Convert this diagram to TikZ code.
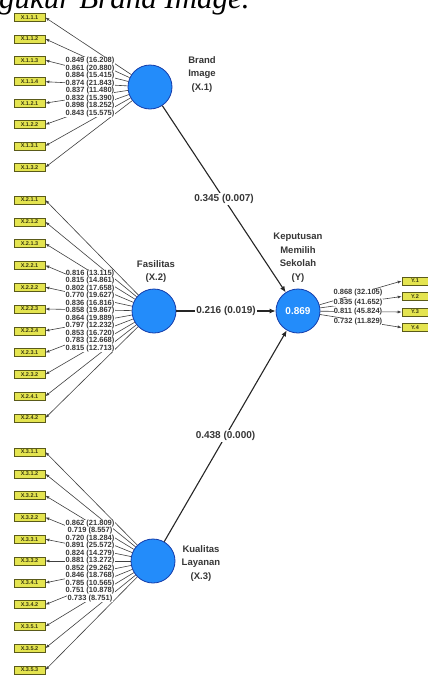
\documentclass[tikz,border=0pt]{standalone}
\usepackage{fontspec}
\setmainfont{Liberation Serif}
\newfontfamily\lsans{Liberation Sans}
\usetikzlibrary{arrows.meta}
\definecolor{cfill}{RGB}{35,140,250}
\definecolor{cdraw}{RGB}{20,60,170}
\definecolor{ifill}{RGB}{228,228,80}
\definecolor{idraw}{RGB}{90,90,25}
\definecolor{tgray}{RGB}{55,55,55}
\def\grpa{X.1.1.1/{0.849 (16.208)},X.1.1.2/{0.861 (20.880)},X.1.1.3/{0.884 (15.415)},X.1.1.4/{0.874 (21.843)},X.1.2.1/{0.837 (11.480)},X.1.2.2/{0.832 (15.390)},X.1.3.1/{0.898 (18.252)},X.1.3.2/{0.843 (15.575)}}
\def\grpb{X.2.1.1/{0.816 (13.115)},X.2.1.2/{0.815 (14.861)},X.2.1.3/{0.802 (17.658)},X.2.2.1/{0.770 (19.627)},X.2.2.2/{0.836 (16.816)},X.2.2.3/{0.858 (19.867)},X.2.2.4/{0.864 (19.889)},X.2.3.1/{0.797 (12.232)},X.2.3.2/{0.853 (16.720)},X.2.4.1/{0.783 (12.668)},X.2.4.2/{0.815 (12.713)}}
\def\grpc{X.3.1.1/{0.862 (21.809)},X.3.1.2/{0.719 (8.557)},X.3.2.1/{0.720 (18.284)},X.3.2.2/{0.891 (25.572)},X.3.3.1/{0.824 (14.279)},X.3.3.2/{0.881 (13.272)},X.3.4.1/{0.852 (29.262)},X.3.4.2/{0.846 (18.768)},X.3.5.1/{0.785 (10.565)},X.3.5.2/{0.751 (10.878)},X.3.5.3/{0.733 (8.751)}}
\def\grpy{Y.1/{0.868 (32.105)},Y.2/{0.835 (41.652)},Y.3/{0.811 (45.824)},Y.4/{0.732 (11.829)}}
\begin{document}
\begin{tikzpicture}[x=1pt,y=-1pt,
  lv/.style={circle, minimum size=44pt, inner sep=0pt, fill=cfill, draw=cdraw, line width=0.8pt},
  ind/.style={rectangle, minimum width=31pt, minimum height=8pt, inner sep=0pt, fill=ifill, draw=idraw, line width=0.6pt, font=\lsans\bfseries\fontsize{5.5}{6}\selectfont, text=idraw!60!black},
  outer/.style={draw=black!75, line width=0.6pt, -{Latex[length=4pt,width=3pt]}},
  inner/.style={draw=black!85, line width=1.1pt, -{Latex[length=6pt,width=5pt]}},
  ld/.style={fill=white, inner sep=0.3pt, font=\lsans\bfseries\fontsize{7.5}{8}\selectfont, text=tgray},
  pc/.style={fill=white, inner sep=1pt, font=\lsans\bfseries\fontsize{10}{11}\selectfont, text=tgray},
  cl/.style={align=center, inner sep=0pt, font=\lsans\bfseries\fontsize{9.5}{13.5}\selectfont, text=tgray}
]
\useasboundingbox (0,0) rectangle (428,675);
\clip (0,0) rectangle (428,675);
\fill[white] (0,0) rectangle (428,675);
\node[anchor=base west, inner sep=0pt, font=\fontsize{31}{31}\selectfont\itshape] (cap) at (-1,8) {gukur Brand Image.};
% latent variables
\node[lv] (BI) at (150,87) {};
\node[lv] (FA) at (154,311) {};
\node[lv] (KL) at (153,561) {};
\node[lv, font=\lsans\bfseries\fontsize{10}{11}\selectfont, text=white] (Y) at (298,311) {0.869};
\node[cl] (BIl) at (202,74.5) {Brand\\Image\\(X.1)};
\node[cl] (FAl) at (156,271.5) {Fasilitas\\(X.2)};
\node[cl] (KLl) at (201,563.5) {Kualitas\\Layanan\\(X.3)};
\node[cl] (Yl) at (298,257.5) {Keputusan\\Memilih\\Sekolah\\(Y)};
% outer model
\foreach \lab/\val [count=\i from 0] in \grpa {
  \node[ind] (ia\i) at (29.5,{17.5+21.4*\i}) {\lab};
  \draw[outer] (BI) -- (ia\i.east);
}
\foreach \lab/\val [count=\i from 0] in \grpb {
  \node[ind] (ib\i) at (29.5,{200+21.8*\i}) {\lab};
  \draw[outer] (FA) -- (ib\i.east);
}
\foreach \lab/\val [count=\i from 0] in \grpc {
  \node[ind] (ic\i) at (29.5,{452+21.8*\i}) {\lab};
  \draw[outer] (KL) -- (ic\i.east);
}
\foreach \lab/\val [count=\i from 0] in \grpy {
  \node[ind, minimum width=26pt] (iy\i) at (415,{281+15.5*\i}) {\lab};
  \draw[outer] (Y) -- (iy\i.west);
}
\foreach \lab/\val [count=\i from 0] in \grpa {
  \node[ld] (la\i) at (90,{60.75+7.5*\i}) {\val};
}
\foreach \lab/\val [count=\i from 0] in \grpb {
  \node[ld] (lb\i) at (90,{273.5+7.5*\i}) {\val};
}
\foreach \lab/\val [count=\i from 0] in \grpc {
  \node[ld] (lc\i) at (90,{523.5+7.5*\i}) {\val};
}
\foreach \lab/\val [count=\i from 0] in \grpy {
  \node[ld] (ly\i) at (358,{293+9.5*\i}) {\val};
}
% inner model
\draw[inner] (BI) -- node[pc] (p1) {0.345 (0.007)} (Y);
\draw[inner] (FA) -- node[pc] (p2) {0.216 (0.019)} (Y);
\draw[inner] (KL) -- node[pc] (p3) {0.438 (0.000)} (Y);
\end{tikzpicture}
\end{document}
